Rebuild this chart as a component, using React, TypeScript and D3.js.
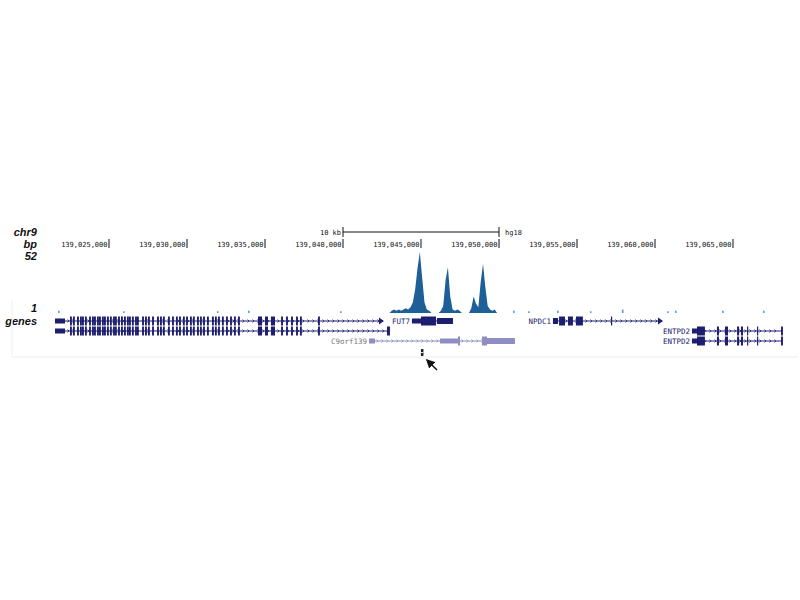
import * as d3 from "d3";

// genomic positions are kept in kb from chr9:139,000,000 and converted with bp()
const BASE = 139000000;
const bp = (k: number) => BASE + k * 1000;

const tickPositions = [139025000, 139030000, 139035000, 139040000, 139045000, 139050000, 139055000, 139060000, 139065000];
const scaleBar = [40, 50]; // 10 kb
const yLabels = ["52", "1"];

// signal track (ChIP) : 150 bp bins starting at 42.0 kb
const peakStart = 42.0;
const binSize = 0.15;
const peakValues = [
  0, 0, 0, 0, 0, 0, 0, 2, 3, 2, 3, 2, 3, 4, 3, 5, 9, 20, 38, 52, 30, 9, 3, 2, 0, 0, 0,
  0, 2, 6, 28, 39, 14, 3, 2, 3, 2, 0, 0, 0, 0, 4, 14, 8, 5, 26, 42, 22, 6, 3, 2, 3, 0,
];
const noisePositions = [21.73, 25.9, 31.92, 33.91, 39.81, 50.9, 51.86, 53.72, 55.83, 57.88, 60.77, 61.28, 64.3, 66.92];
const noiseValues = [2, 1.5, 1.5, 2, 1.5, 2, 1.5, 2, 1.5, 3, 1.5, 2, 2, 2];

// long gene (left, label off-screen): narrow coding exons
const longExons = [
  22.5, 22.69, 22.95, 23.14, 23.27, 23.46, 23.72, 23.91, 24.04, 24.23, 24.36, 24.55, 24.68, 24.87,
  25.06, 25.26, 25.38, 25.58, 25.77, 25.96, 26.15, 26.28, 26.47, 26.67, 26.79, 27.12, 27.31, 27.5,
  27.76, 28.08, 28.27, 28.46, 28.78, 29.04, 29.29, 29.49, 29.74, 29.94, 30.19, 30.38, 30.64, 30.83,
  31.03, 31.28, 31.6, 31.79, 31.99, 32.24, 32.5, 32.76, 33.01, 33.27, 36.03, 36.35, 36.67, 36.99,
  37.24, 38.4,
];
const longBlocks: [number, number, string][] = [
  [21.54, 22.18, "u"],
  [34.55, 34.81, "c"],
  [35.0, 35.19, "c"],
  [35.38, 35.64, "c"],
];

type Gene = {
  name: string;
  row: number;
  start: number;
  end: number;
  muted?: boolean;
  arrow?: boolean;
  blocks: [number, number, string][];
};

const genes: Gene[] = [
  { name: "", row: 0, start: 21.54, end: 42.56, arrow: true, blocks: [] },
  { name: "", row: 1, start: 21.54, end: 43.01, blocks: [[42.82, 43.01, "c"]] },
  { name: "FUT7", row: 0, start: 44.42, end: 47.05, blocks: [[44.42, 45.0, "u"], [45.0, 45.96, "c"], [46.02, 47.05, "m"]] },
  {
    name: "C9orf139", row: 2, start: 41.67, end: 51.02, muted: true,
    blocks: [[41.67, 42.05, "u"], [46.22, 47.37, "u"], [47.37, 47.5, "c"], [48.91, 49.23, "c"], [49.23, 51.02, "m"]],
  },
  {
    name: "NPDC1", row: 0, start: 53.46, end: 60.45, arrow: true,
    blocks: [[53.46, 53.78, "m"], [53.85, 54.23, "c"], [54.42, 54.74, "c"], [54.93, 55.38, "c"], [57.18, 57.25, "c"]],
  },
  ...[1, 2].map((row) => ({
    name: "ENTPD2", row, start: 62.37, end: 68.2,
    blocks: [
      [62.37, 62.69, "u"], [62.69, 63.2, "c"], [63.97, 64.1, "c"], [64.49, 64.68, "c"], [65.26, 65.39, "c"],
      [65.51, 65.64, "c"], [65.9, 65.96, "c"], [66.54, 66.6, "c"], [68.08, 68.2, "c"],
    ] as [number, number, string][],
  })),
];
const markerPos = 45.06;

export default function App() {
  const x = d3.scaleLinear().domain([139025000, 139065000]).range([109, 733]);
  const y = d3.scaleLinear().domain([0, 52]).range([313, 252]);
  const rowY = [321, 331, 341];
  const heights: Record<string, number> = { u: 5, m: 6, c: 9 };
  const navy = "#1e1e70";
  const lilac = "#8e8ec2";
  const mono = "'DejaVu Sans Mono', monospace";
  const fmt = d3.format(",");

  const area = d3
    .area<number>()
    .x((_, i) => x(bp(peakStart + (i + 0.5) * binSize)))
    .y0(y(0))
    .y1((d) => y(d))
    .curve(d3.curveLinear);

  const chevrons = (s: number, e: number, yy: number) => {
    const x0 = x(bp(s));
    const x1 = x(bp(e));
    const pts = d3.range(x0 + 4, x1 - 2, 5);
    return pts.map((px) => `M${px - 1.5},${yy - 1.5}L${px},${yy}L${px - 1.5},${yy + 1.5}`).join("");
  };

  return (
    <svg width={800} height={600} style={{ position: "absolute", left: 0, top: 0, background: "#fff" }}>
      {/* side labels */}
      <g fontFamily="'Liberation Sans', Arial, sans-serif" fontWeight="bold" fontStyle="italic" fontSize={11} textAnchor="end" fill="#111">
        <text x={37} y={236}>chr9</text>
        <text x={37} y={248}>bp</text>
        <text x={37} y={260}>{yLabels[0]}</text>
        <text x={37} y={312}>{yLabels[1]}</text>
        <text x={37} y={325}>genes</text>
      </g>

      {/* scale bar */}
      <g stroke="#111" strokeWidth={1}>
        <line x1={x(bp(scaleBar[0]))} x2={x(bp(scaleBar[1]))} y1={232} y2={232} />
        <line x1={x(bp(scaleBar[0]))} x2={x(bp(scaleBar[0]))} y1={227} y2={237} />
        <line x1={x(bp(scaleBar[1]))} x2={x(bp(scaleBar[1]))} y1={227} y2={237} />
      </g>
      <text x={x(bp(scaleBar[0])) - 2} y={234.5} fontFamily={mono} fontSize={7} textAnchor="end" fill="#111">
        {`${scaleBar[1] - scaleBar[0]} kb`}
      </text>
      <text x={x(bp(scaleBar[1])) + 6} y={234.5} fontFamily={mono} fontSize={7} fill="#111">hg18</text>

      {/* base position ticks */}
      {tickPositions.map((t) => (
        <g key={t}>
          <line x1={x(t)} x2={x(t)} y1={239} y2={248} stroke="#111" />
          <text x={x(t) - 1.5} y={246.5} fontFamily={mono} fontSize={7} textAnchor="end" fill="#111">
            {fmt(t)}
          </text>
        </g>
      ))}

      {/* signal */}
      <path d={area(peakValues) ?? ""} fill="#1d5f96" />
      {noisePositions.map((p, i) => (
        <rect key={p} x={x(bp(p))} width={1.6} y={y(noiseValues[i])} height={y(0) - y(noiseValues[i])} fill="#5b9fd0" />
      ))}

      {/* genes */}
      {genes.map((g, gi) => {
        const yy = rowY[g.row];
        const col = g.muted ? lilac : navy;
        const xs = x(bp(g.start));
        const xe = x(bp(g.end));
        const isLong = gi < 2;
        return (
          <g key={gi} fill={col} stroke="none">
            {g.name && (
              <text x={xs - 2} y={yy + 2.6} fontFamily={mono} fontSize={7.5} textAnchor="end" fill={g.muted ? "#777" : navy}>
                {g.name}
              </text>
            )}
            <line x1={xs} x2={xe} y1={yy} y2={yy} stroke={col} strokeWidth={1} />
            <path d={chevrons(g.start, g.end, yy)} stroke={col} strokeWidth={0.8} fill="none" />
            {g.arrow && <path d={`M${xe - 4},${yy - 3.5}L${xe + 1},${yy}L${xe - 4},${yy + 3.5}Z`} />}
            {isLong &&
              longExons.map((e) => (
                <rect key={e} x={x(bp(e))} width={x(bp(e + 0.12)) - x(bp(e))} y={yy - 4.5} height={9} />
              ))}
            {(isLong ? [...longBlocks, ...g.blocks] : g.blocks).map(([s, e, k], i) => (
              <rect key={i} x={x(bp(s))} width={Math.max(1.2, x(bp(e)) - x(bp(s)))} y={yy - heights[k] / 2} height={heights[k]} />
            ))}
          </g>
        );
      })}

      {/* marker + arrow */}
      <rect x={x(bp(markerPos)) - 1} y={349} width={2.5} height={7} fill="#222" />
      <rect x={x(bp(markerPos)) - 1} y={352} width={2.5} height={1} fill="#ddd" />
      <defs>
        <marker id="ah" markerWidth={6} markerHeight={6} refX={5} refY={3} orient="auto">
          <path d="M0,0L6,3L0,6Z" fill="#111" />
        </marker>
      </defs>
      <line x1={437} y1={370} x2={427} y2={360} stroke="#111" strokeWidth={1.5} markerEnd="url(#ah)" />

      {/* faint frame */}
      <line x1={12} x2={798} y1={357} y2={357} stroke="#ececec" />
      <line x1={12} x2={12} y1={300} y2={357} stroke="#f0f0f0" />
    </svg>
  );
}
